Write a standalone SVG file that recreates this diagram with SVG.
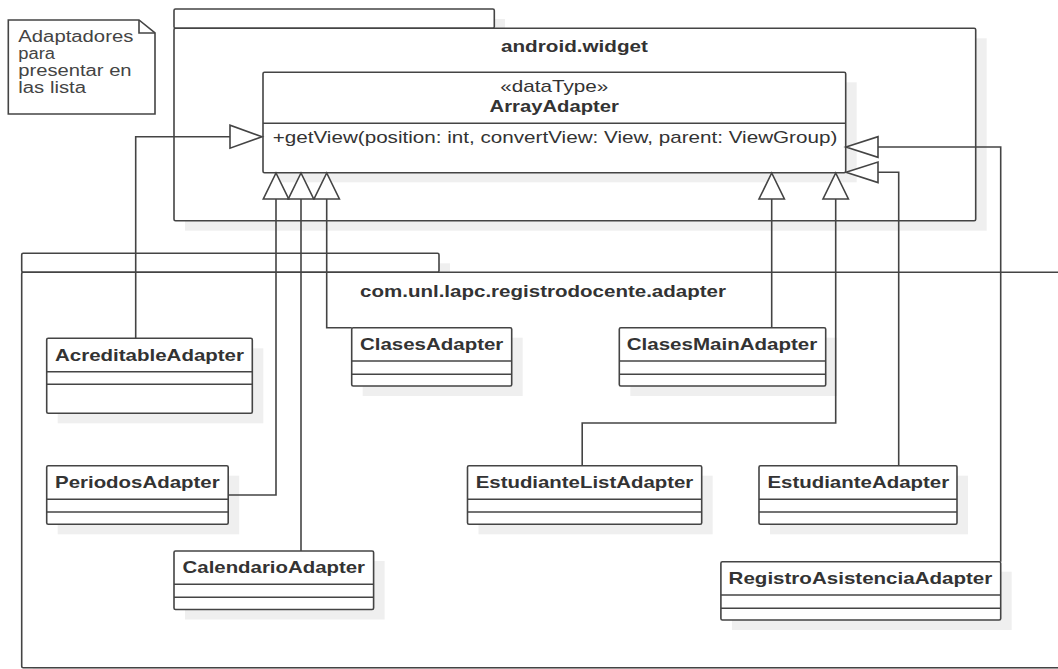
<svg xmlns="http://www.w3.org/2000/svg" width="1058" height="669" viewBox="0 0 1058 669">
<style>
.sh{fill:#efefef;stroke:none}
.box{fill:#fff;stroke:#444;stroke-width:1.6}
.ln{fill:none;stroke:#444;stroke-width:1.6}
.tri{fill:#fff;stroke:#444;stroke-width:1.6;stroke-linejoin:miter}
.t{font-family:"Liberation Sans",Arial,sans-serif;font-size:17px;fill:#333}
.n{font-family:"Liberation Sans",Arial,sans-serif;font-size:16px;fill:#444}
.b{font-weight:bold}
</style>
<defs>
<g id="triUp"><polygon points="0,0 -12.7,26 12.7,26" class="tri"/></g>
<g id="triLeft"><polygon points="0,0 32,-10.3 32,10.3" class="tri"/></g>
<g id="triRight"><polygon points="0,0 -32,-11.5 -32,11.5" class="tri"/></g>
</defs>

<g id="note">
<path d="M8.3,20 H139 L155,33 V114 H8.3 Z" class="box"/>
<path d="M139,20 V33 H155" class="ln"/>
<text class="n" x="18.3" y="42.3" textLength="115" lengthAdjust="spacingAndGlyphs">Adaptadores</text>
<text class="n" x="18.3" y="59.3" textLength="36.7" lengthAdjust="spacingAndGlyphs">para</text>
<text class="n" x="18.3" y="76.3" textLength="113.3" lengthAdjust="spacingAndGlyphs">presentar en</text>
<text class="n" x="18.3" y="93.3" textLength="67.7" lengthAdjust="spacingAndGlyphs">las lista</text>
</g>

<g id="pkg-android-widget">
<rect class="sh" x="185" y="19" width="320" height="19"/>
<rect class="sh" x="185" y="38.3" width="801.7" height="192.4"/>
<rect class="box" x="174" y="9" width="320.3" height="19.3" rx="1.5"/>
<rect class="box" x="174" y="28.3" width="801.7" height="192.4" rx="1.5"/>
<text class="t b" x="501" y="52.3" textLength="147" lengthAdjust="spacingAndGlyphs">android.widget</text>
</g>

<g id="pkg-adapter">
<rect class="sh" x="32.7" y="263.3" width="417.3" height="19"/>
<rect class="sh" x="32.7" y="282.3" width="1060" height="395.4"/>
<rect class="box" x="21.7" y="253.3" width="417.3" height="19" rx="1.5"/>
<rect class="box" x="21.7" y="272.3" width="1060" height="395.4" rx="1.5"/>
<text class="t b" x="360" y="296.7" textLength="366" lengthAdjust="spacingAndGlyphs">com.unl.lapc.registrodocente.adapter</text>
</g>

<g id="ArrayAdapter">
<rect class="sh" x="274" y="82.3" width="582.7" height="100"/>
<rect class="box" x="263" y="72.3" width="582.7" height="100.4" rx="1.5"/>
<line class="ln" x1="263" y1="123.3" x2="845.7" y2="123.3"/>
<text class="t" x="500.3" y="91.7" textLength="108" lengthAdjust="spacingAndGlyphs">«dataType»</text>
<text class="t b" x="489.6" y="112" textLength="129.4" lengthAdjust="spacingAndGlyphs">ArrayAdapter</text>
<text class="t" x="272.7" y="142.5" textLength="564.6" lengthAdjust="spacingAndGlyphs">+getView(position: int, convertView: View, parent: ViewGroup)</text>
</g>

<g id="AcreditableAdapter">
<rect class="sh" x="57.7" y="348.3" width="205.6" height="75"/>
<rect class="box" x="46.7" y="338.3" width="205.6" height="75" rx="1.5"/>
<line class="ln" x1="46.7" y1="371.7" x2="252.3" y2="371.7"/>
<line class="ln" x1="46.7" y1="384.3" x2="252.3" y2="384.3"/>
<text class="t b" x="55" y="360.7" textLength="189" lengthAdjust="spacingAndGlyphs">AcreditableAdapter</text>
</g>

<g id="ClasesAdapter">
<rect class="sh" x="362.7" y="337.7" width="160" height="58.3"/>
<rect class="box" x="351.7" y="327.7" width="160" height="58.3" rx="1.5"/>
<line class="ln" x1="351.7" y1="361" x2="511.7" y2="361"/>
<line class="ln" x1="351.7" y1="374.3" x2="511.7" y2="374.3"/>
<text class="t b" x="360" y="350" textLength="143.3" lengthAdjust="spacingAndGlyphs">ClasesAdapter</text>
</g>

<g id="ClasesMainAdapter">
<rect class="sh" x="630.3" y="337.7" width="206.4" height="58.3"/>
<rect class="box" x="619.3" y="327.7" width="206.4" height="58.3" rx="1.5"/>
<line class="ln" x1="619.3" y1="361" x2="825.7" y2="361"/>
<line class="ln" x1="619.3" y1="374.3" x2="825.7" y2="374.3"/>
<text class="t b" x="626.7" y="350" textLength="190.6" lengthAdjust="spacingAndGlyphs">ClasesMainAdapter</text>
</g>

<g id="PeriodosAdapter">
<rect class="sh" x="57.7" y="475.7" width="181.5" height="58.6"/>
<rect class="box" x="46.7" y="465.7" width="181.5" height="58.6" rx="1.5"/>
<line class="ln" x1="46.7" y1="499.3" x2="228.2" y2="499.3"/>
<line class="ln" x1="46.7" y1="512" x2="228.2" y2="512"/>
<text class="t b" x="55" y="488.3" textLength="164.7" lengthAdjust="spacingAndGlyphs">PeriodosAdapter</text>
</g>

<g id="EstudianteListAdapter">
<rect class="sh" x="478.5" y="475.7" width="234.2" height="58.6"/>
<rect class="box" x="467.5" y="465.7" width="234.2" height="58.6" rx="1.5"/>
<line class="ln" x1="467.5" y1="499.3" x2="701.7" y2="499.3"/>
<line class="ln" x1="467.5" y1="512" x2="701.7" y2="512"/>
<text class="t b" x="475.7" y="488.3" textLength="217.6" lengthAdjust="spacingAndGlyphs">EstudianteListAdapter</text>
</g>

<g id="EstudianteAdapter">
<rect class="sh" x="770" y="475.7" width="198" height="58.6"/>
<rect class="box" x="759" y="465.7" width="198" height="58.6" rx="1.5"/>
<line class="ln" x1="759" y1="499.3" x2="957" y2="499.3"/>
<line class="ln" x1="759" y1="512" x2="957" y2="512"/>
<text class="t b" x="767.4" y="488.3" textLength="181.8" lengthAdjust="spacingAndGlyphs">EstudianteAdapter</text>
</g>

<g id="CalendarioAdapter">
<rect class="sh" x="185" y="561" width="199.6" height="58.5"/>
<rect class="box" x="174" y="551" width="199.6" height="58.5" rx="1.5"/>
<line class="ln" x1="174" y1="584.3" x2="373.6" y2="584.3"/>
<line class="ln" x1="174" y1="597.3" x2="373.6" y2="597.3"/>
<text class="t b" x="182.6" y="573.3" textLength="182.4" lengthAdjust="spacingAndGlyphs">CalendarioAdapter</text>
</g>

<g id="RegistroAsistenciaAdapter">
<rect class="sh" x="731.9" y="571.7" width="279.8" height="58.3"/>
<rect class="box" x="720.9" y="561.7" width="279.8" height="58.3" rx="1.5"/>
<line class="ln" x1="720.9" y1="595" x2="1000.7" y2="595"/>
<line class="ln" x1="720.9" y1="608.3" x2="1000.7" y2="608.3"/>
<text class="t b" x="728.6" y="584" textLength="263.7" lengthAdjust="spacingAndGlyphs">RegistroAsistenciaAdapter</text>
</g>

<g id="connectors">
<polyline class="ln" points="135.7,338.3 135.7,136.7 230,136.7"/>
<polyline class="ln" points="228.2,495 276,495 276,199"/>
<polyline class="ln" points="301,551 301,199"/>
<polyline class="ln" points="351.7,327.7 326.7,327.7 326.7,199"/>
<polyline class="ln" points="771.7,327.7 771.7,199"/>
<polyline class="ln" points="582.2,465.7 582.2,423 835.7,423 835.7,199"/>
<polyline class="ln" points="898.7,465.7 898.7,172.3 877.7,172.3"/>
<polyline class="ln" points="1000.7,561.7 1000.7,147 877.7,147"/>
<use href="#triRight" x="262" y="136.7"/>
<use href="#triUp" x="276" y="173"/>
<use href="#triUp" x="301" y="173"/>
<use href="#triUp" x="326.7" y="173"/>
<use href="#triUp" x="771.7" y="173"/>
<use href="#triUp" x="835.7" y="173"/>
<use href="#triLeft" x="846" y="147"/>
<use href="#triLeft" x="846" y="172.3"/>
</g>
</svg>
